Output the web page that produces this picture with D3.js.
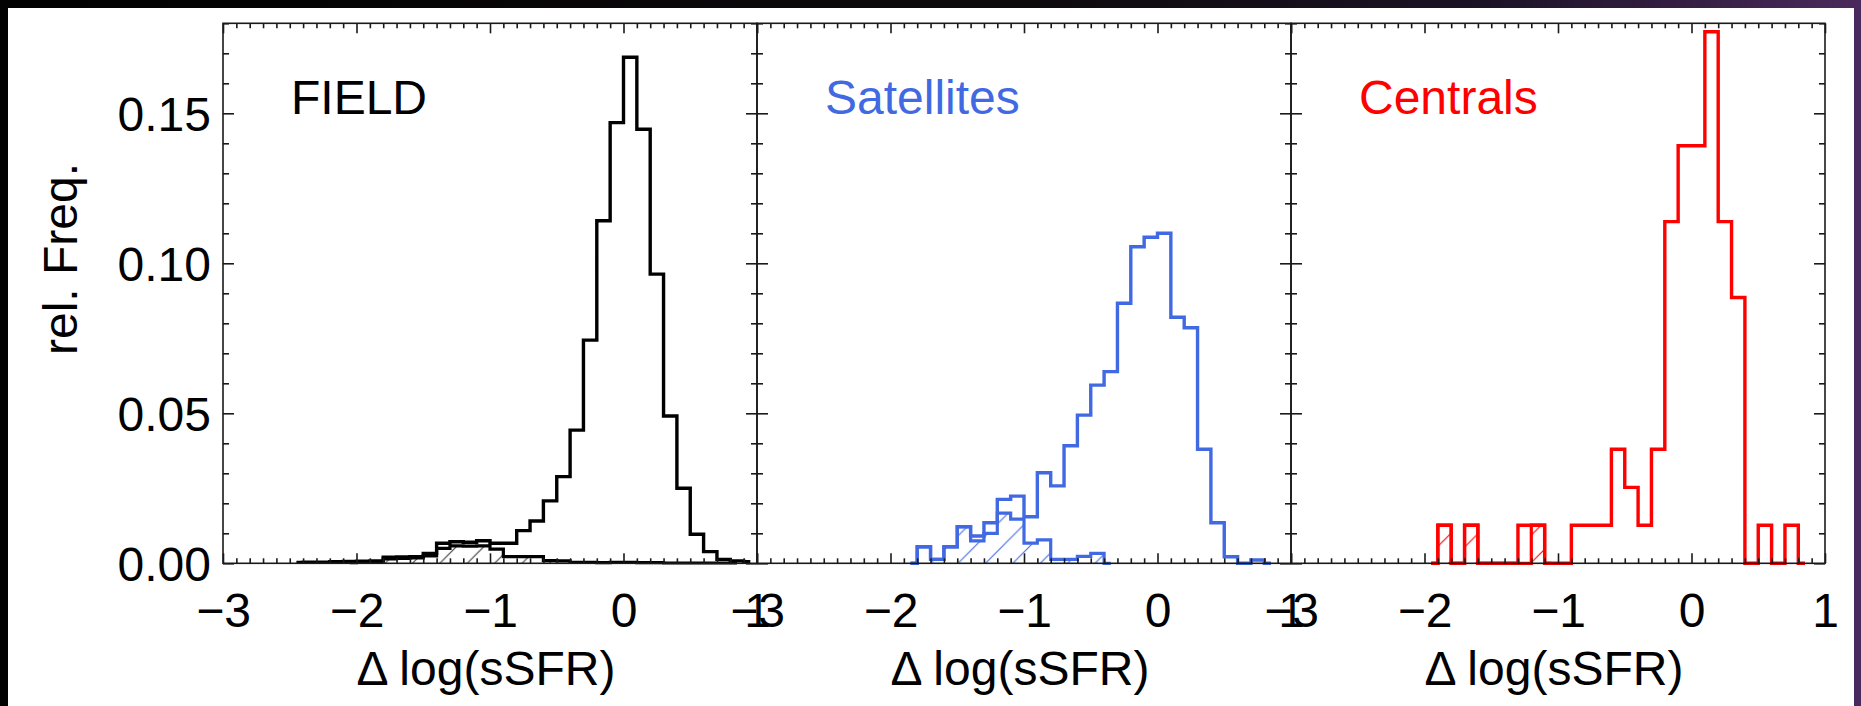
<!DOCTYPE html>
<html>
<head>
<meta charset="utf-8">
<script src="https://cdn.jsdelivr.net/npm/d3@7"></script>
<style>
  html, body { margin: 0; padding: 0; background: #000; overflow: hidden; }
  svg { display: block; }
  text { font-family: "Liberation Sans", Arial, Helvetica, sans-serif; }
</style>
</head>
<body>
<svg id="chart" width="1861" height="706"></svg>
<script>
// ---- data: relative frequency per 0.1-dex bin of Δ log(sSFR) ----
const binWidth = 0.1;

const xTickValues = [-3, -2, -1, 0, 1];
const yTickValues = [0, 0.05, 0.10, 0.15];

const panelTitles = ["FIELD", "Satellites", "Centrals"];
const panelColors = ["#000000", "#4169e1", "#ff0000"];
const hatchColors = ["#3a3a3a", "#4169e1", "#ff0000"];

// FIELD, all galaxies (first bin centre -2.45)
const fieldAllStart = -2.45;
const fieldAll = [0.0003, 0.0004, 0.0004, 0.0005, 0.0006, 0.0007, 0.0008,
  0.0020, 0.0021, 0.0022, 0.0033, 0.0067, 0.0072, 0.0070, 0.0075, 0.0067,
  0.0067, 0.0109, 0.0141, 0.0208, 0.0289, 0.0444, 0.0744, 0.1142, 0.1469,
  0.1687, 0.1447, 0.0964, 0.0491, 0.0250, 0.0097, 0.0039, 0.0013, 0.0008,
  0.0005];
// FIELD, hatched subset (first bin centre -2.05)
const fieldSubStart = -2.05;
const fieldSub = [0.0002, 0.0004, 0.0006, 0.0015, 0.0016, 0.0018, 0.0025,
  0.0050, 0.0058, 0.0057, 0.0058, 0.0047, 0.0022, 0.0022, 0.0022, 0.0009,
  0.0008, 0.0003, 0.0003, 0.0002, 0.0003, 0.0003, 0.0002, 0.0002, 0.0001,
  0.0001, 0.0001, 0.0001, 0.0001, 0.0001];

// Satellites, all (first bin centre -1.85)
const satAllStart = -1.85;
const satAll = [0, 0.0055, 0.0013, 0.0055, 0.0122, 0.0091, 0.0135, 0.0213,
  0.0224, 0.0155, 0.0302, 0.0258, 0.0392, 0.0494, 0.0594, 0.0639, 0.0867,
  0.1055, 0.1087, 0.1100, 0.0820, 0.0785, 0.0380, 0.0135, 0.0022, 0,
  0.0011, 0];
// Satellites, hatched subset
const satSubStart = -1.85;
const satSub = [0, 0.0055, 0.0013, 0.0055, 0.0122, 0.0075, 0.0100, 0.0167,
  0.0147, 0.0067, 0.0078, 0.0013, 0.0013, 0.0023, 0.0033, 0];

// Centrals, all (first bin centre -1.95)
const cenAllStart = -1.95;
const cenAll = [0, 0.0127, 0, 0.0127, 0, 0, 0, 0.0127, 0.0127, 0, 0,
  0.0127, 0.0127, 0.0127, 0.0380, 0.0253, 0.0127, 0.0380, 0.1139, 0.1392,
  0.1392, 0.1772, 0.1139, 0.0886, 0, 0.0127, 0, 0.0127, 0];
// Centrals, hatched subset
const cenSubStart = -1.95;
const cenSub = [0, 0.0127, 0, 0.0127, 0, 0, 0, 0, 0.0127, 0];

const series = [
  { all: fieldAll, allStart: fieldAllStart, sub: fieldSub, subStart: fieldSubStart, hatchX: 494.6 },
  { all: satAll, allStart: satAllStart, sub: satSub, subStart: satSubStart, hatchX: 958.0 },
  { all: cenAll, allStart: cenAllStart, sub: cenSub, subStart: cenSubStart, hatchX: 1421.0 }
];

// ---- layout ----
const W = 1861, H = 706;
const plotLeft = 223, panelW = 534;
const plotTop = 23.3, plotBottom = 563.3;
const fontSize = 48;

const svg = d3.select("#chart");
const defs = svg.append("defs");

// dark backdrop with a purple glow on the right edge
const bg = defs.append("linearGradient").attr("id", "bgGrad")
  .attr("x1", "0").attr("x2", "1").attr("y1", "0").attr("y2", "0");
bg.append("stop").attr("offset", "0").attr("stop-color", "#020202");
bg.append("stop").attr("offset", "0.55").attr("stop-color", "#0d0a0c");
bg.append("stop").attr("offset", "0.8").attr("stop-color", "#1c1226");
bg.append("stop").attr("offset", "1").attr("stop-color", "#4a2a5c");
svg.append("rect").attr("width", W).attr("height", H).attr("fill", "url(#bgGrad)");
svg.append("rect").attr("x", 8).attr("y", 8).attr("width", 1846).attr("height", H - 8)
  .attr("fill", "#ffffff");

const y = d3.scaleLinear().domain([0, 0.18]).range([plotBottom, plotTop]);

const xMinor = d3.range(-30, 11).map(d => d / 10).filter(d => Math.abs(d - Math.round(d)) > 1e-6);
const yMinor = d3.range(0, 19).map(d => d / 100).filter(d => Math.abs(d * 20 - Math.round(d * 20)) > 1e-6);

// IDL-style psym=10 outline: starts and ends at the outer bin centres
function stepPath(x, start, vals) {
  let d = `M${x(start)},${y(vals[0])}`;
  for (let i = 0; i < vals.length - 1; i++) {
    const edge = start + (i + 0.5) * binWidth;
    d += `H${x(edge)}V${y(vals[i + 1])}`;
  }
  d += `H${x(start + (vals.length - 1) * binWidth)}`;
  return d;
}

function styleTicks(g) {
  g.select(".domain").remove();
  g.selectAll(".tick line").attr("stroke", "#1a1a1a").attr("stroke-width", 1.6);
}

panelTitles.forEach((title, p) => {
  const left = plotLeft + p * panelW;
  const x = d3.scaleLinear().domain([-3, 1]).range([left, left + panelW]);
  const s = series[p];
  const g = svg.append("g");

  // clip
  defs.append("clipPath").attr("id", `clip${p}`)
    .append("rect").attr("x", left).attr("y", plotTop)
    .attr("width", panelW).attr("height", plotBottom - plotTop + 3);

  // hatch pattern
  const step = 27.4;
  const pat = defs.append("pattern").attr("id", `hatch${p}`)
    .attr("patternUnits", "userSpaceOnUse")
    .attr("x", s.hatchX + plotBottom).attr("y", 0)
    .attr("width", step).attr("height", step);
  pat.append("path")
    .attr("d", `M0,${step}L${step},0M${-step / 4},${step / 4}L${step / 4},${-step / 4}M${step * 0.75},${step * 1.25}L${step * 1.25},${step * 0.75}`)
    .attr("stroke", hatchColors[p]).attr("stroke-width", 1.1);

  const plot = g.append("g").attr("clip-path", `url(#clip${p})`);

  // hatched subset
  plot.append("path")
    .attr("d", stepPath(x, s.subStart, s.sub) + `V${y(0)}H${x(s.subStart)}Z`)
    .attr("fill", `url(#hatch${p})`).attr("stroke", "none");
  plot.append("path")
    .attr("d", stepPath(x, s.subStart, s.sub))
    .attr("fill", "none").attr("stroke", panelColors[p])
    .attr("stroke-width", 3.2).attr("stroke-linejoin", "miter");

  // full sample
  plot.append("path")
    .attr("d", stepPath(x, s.allStart, s.all))
    .attr("fill", "none").attr("stroke", panelColors[p])
    .attr("stroke-width", 3.4).attr("stroke-linejoin", "miter");

  // frame
  g.append("rect").attr("x", left).attr("y", plotTop)
    .attr("width", panelW).attr("height", plotBottom - plotTop)
    .attr("fill", "none").attr("stroke", "#1a1a1a").attr("stroke-width", 1.6);

  // inward ticks on all four sides
  g.append("g").attr("transform", `translate(0,${plotBottom})`)
    .call(d3.axisBottom(x).tickValues(xTickValues).tickSize(-10).tickFormat("")).call(styleTicks);
  g.append("g").attr("transform", `translate(0,${plotBottom})`)
    .call(d3.axisBottom(x).tickValues(xMinor).tickSize(-5).tickFormat("")).call(styleTicks);
  g.append("g").attr("transform", `translate(0,${plotTop})`)
    .call(d3.axisTop(x).tickValues(xTickValues).tickSize(-10).tickFormat("")).call(styleTicks);
  g.append("g").attr("transform", `translate(0,${plotTop})`)
    .call(d3.axisTop(x).tickValues(xMinor).tickSize(-5).tickFormat("")).call(styleTicks);
  g.append("g").attr("transform", `translate(${left},0)`)
    .call(d3.axisLeft(y).tickValues(yTickValues).tickSize(-11).tickFormat("")).call(styleTicks);
  g.append("g").attr("transform", `translate(${left},0)`)
    .call(d3.axisLeft(y).tickValues(yMinor).tickSize(-6).tickFormat("")).call(styleTicks);
  g.append("g").attr("transform", `translate(${left + panelW},0)`)
    .call(d3.axisRight(y).tickValues(yTickValues).tickSize(-11).tickFormat("")).call(styleTicks);
  g.append("g").attr("transform", `translate(${left + panelW},0)`)
    .call(d3.axisRight(y).tickValues(yMinor).tickSize(-6).tickFormat("")).call(styleTicks);

  // x tick labels
  const xl = g.append("g").attr("transform", `translate(0,${plotBottom})`)
    .call(d3.axisBottom(x).tickValues(xTickValues).tickSize(0).tickPadding(29.5)
      .tickFormat(d3.format("d")));
  xl.select(".domain").remove();
  xl.selectAll("text").attr("font-size", fontSize).attr("fill", "#000")
    .attr("font-family", "Liberation Sans, Arial, Helvetica, sans-serif");

  // x axis title
  g.append("text").attr("x", left + panelW / 2 - 4).attr("y", 685)
    .attr("text-anchor", "middle").attr("font-size", fontSize).attr("fill", "#000")
    .text("Δ log(sSFR)");

  // panel title
  g.append("text").attr("x", left + 68).attr("y", 114)
    .attr("font-size", fontSize).attr("fill", panelColors[p])
    .text(title);

  // y tick labels on the first panel only
  if (p === 0) {
    const yl = g.append("g").attr("transform", `translate(${left},0)`)
      .call(d3.axisLeft(y).tickValues(yTickValues).tickSize(0).tickPadding(12)
        .tickFormat(d3.format(".2f")));
    yl.select(".domain").remove();
    yl.selectAll("text").attr("font-size", fontSize).attr("fill", "#000")
      .attr("dy", "0.36em")
      .attr("font-family", "Liberation Sans, Arial, Helvetica, sans-serif");
  }
});

// y axis title
svg.append("text")
  .attr("transform", `translate(77,259) rotate(-90)`)
  .attr("text-anchor", "middle").attr("font-size", fontSize).attr("fill", "#000")
  .text("rel. Freq.");
</script>
</body>
</html>
